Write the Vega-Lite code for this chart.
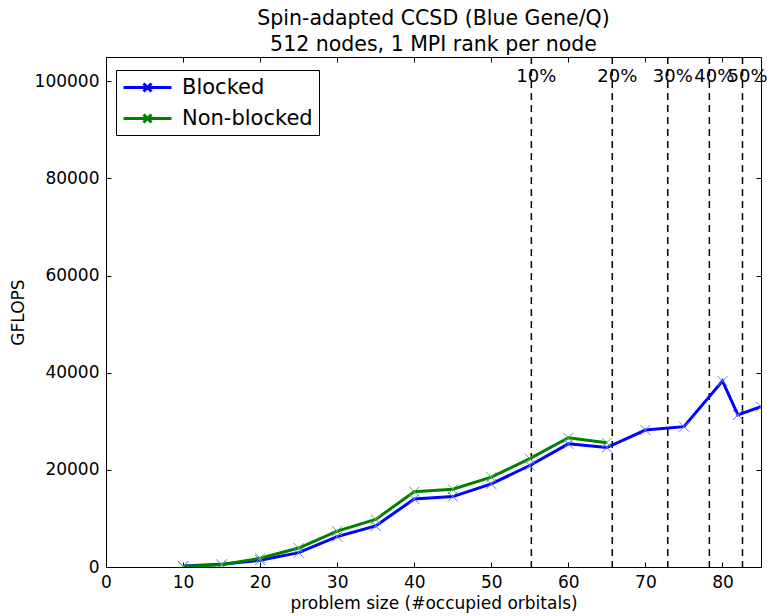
{
  "$schema": "https://vega.github.io/schema/vega-lite/v6.json",
  "autosize": "none",
  "padding": {"left": 106, "top": 57, "right": 6, "bottom": 49},
  "width": 655,
  "height": 510,
  "background": "white",
  "title": {
    "text": ["Spin-adapted CCSD (Blue Gene/Q)", "512 nodes, 1 MPI rank per node"],
    "font": "DejaVu Sans",
    "fontSize": 20.5,
    "fontWeight": "normal",
    "color": "black",
    "anchor": "middle",
    "offset": 1,
    "lineHeight": 26
  },
  "config": {
    "font": "DejaVu Sans",
    "view": {"stroke": "black", "strokeWidth": 1},
    "axis": {
      "grid": false,
      "labelFlush": false,
      "domainColor": "black",
      "tickColor": "black",
      "tickSize": -5,
      "labelColor": "black",
      "labelFont": "DejaVu Sans",
      "labelFontSize": 17,
      "titleFont": "DejaVu Sans",
      "titleFontSize": 17,
      "titleFontWeight": "normal",
      "titleColor": "black"
    }
  },
  "datasets": {
    "perf": [
      {"size": 10, "gflops": 200, "series": "Blocked"},
      {"size": 15, "gflops": 550, "series": "Blocked"},
      {"size": 20, "gflops": 1400, "series": "Blocked"},
      {"size": 25, "gflops": 2950, "series": "Blocked"},
      {"size": 30, "gflops": 6250, "series": "Blocked"},
      {"size": 35, "gflops": 8450, "series": "Blocked"},
      {"size": 40, "gflops": 14000, "series": "Blocked"},
      {"size": 45, "gflops": 14500, "series": "Blocked"},
      {"size": 50, "gflops": 17100, "series": "Blocked"},
      {"size": 55, "gflops": 20900, "series": "Blocked"},
      {"size": 60, "gflops": 25350, "series": "Blocked"},
      {"size": 65, "gflops": 24600, "series": "Blocked"},
      {"size": 70, "gflops": 28200, "series": "Blocked"},
      {"size": 75, "gflops": 28900, "series": "Blocked"},
      {"size": 80, "gflops": 38300, "series": "Blocked"},
      {"size": 82, "gflops": 31300, "series": "Blocked"},
      {"size": 85, "gflops": 33000, "series": "Blocked"},
      {"size": 10, "gflops": 100, "series": "Non-blocked"},
      {"size": 15, "gflops": 450, "series": "Non-blocked"},
      {"size": 20, "gflops": 1800, "series": "Non-blocked"},
      {"size": 25, "gflops": 3900, "series": "Non-blocked"},
      {"size": 30, "gflops": 7400, "series": "Non-blocked"},
      {"size": 35, "gflops": 9800, "series": "Non-blocked"},
      {"size": 40, "gflops": 15500, "series": "Non-blocked"},
      {"size": 45, "gflops": 16000, "series": "Non-blocked"},
      {"size": 50, "gflops": 18500, "series": "Non-blocked"},
      {"size": 55, "gflops": 22300, "series": "Non-blocked"},
      {"size": 60, "gflops": 26600, "series": "Non-blocked"},
      {"size": 65, "gflops": 25600, "series": "Non-blocked"}
    ],
    "marks": [
      {"size": 55.2, "label": "10%", "labelY": 100800},
      {"size": 65.7, "label": "20%", "labelY": 100800},
      {"size": 72.9, "label": "30%", "labelY": 100800},
      {"size": 78.3, "label": "40%", "labelY": 100800},
      {"size": 82.6, "label": "50%", "labelY": 100800}
    ]
  },
  "resolve": {"axis": {"x": "independent", "y": "independent"}},
  "layer": [
    {
      "data": {"name": "marks"},
      "mark": {"type": "rule", "color": "black", "strokeWidth": 1.5, "strokeDash": [7, 5]},
      "encoding": {
        "x": {
          "field": "size", "type": "quantitative",
          "scale": {"domain": [0, 85], "nice": false, "zero": false},
          "axis": {"orient": "bottom", "values": [0, 10, 20, 30, 40, 50, 60, 70, 80], "title": "problem size (#occupied orbitals)", "labelPadding": 12, "titlePadding": 5}
        }
      }
    },
    {
      "data": {"name": "marks"},
      "mark": {"type": "text", "fontSize": 18, "color": "black", "align": "center", "baseline": "middle", "dx": 5},
      "encoding": {
        "x": {"field": "size", "type": "quantitative", "axis": {"orient": "top", "labels": false, "title": null, "domain": false, "values": [0, 10, 20, 30, 40, 50, 60, 70, 80]}},
        "y": {
          "field": "labelY", "type": "quantitative",
          "scale": {"domain": [0, 105000], "nice": false},
          "axis": {"orient": "left", "values": [0, 20000, 40000, 60000, 80000, 100000], "format": "d", "title": "GFLOPS", "labelPadding": 12, "titlePadding": 7}
        },
        "text": {"field": "label"}
      }
    },
    {
      "data": {"name": "perf"},
      "mark": {"type": "line", "strokeWidth": 3, "clip": true},
      "encoding": {
        "x": {"field": "size", "type": "quantitative", "axis": null},
        "y": {"field": "gflops", "type": "quantitative", "axis": null},
        "color": {
          "field": "series", "type": "nominal",
          "scale": {"domain": ["Blocked", "Non-blocked"], "range": ["#0000ff", "#008000"]},
          "legend": {
            "title": null,
            "orient": "none",
            "legendX": 10,
            "legendY": 13,
            "strokeColor": "black",
            "fillColor": "white",
            "padding": 6,
            "symbolType": "M-1,0L3.8,0M1,-0.4L1.8,0.4M1,0.4L1.8,-0.4",
            "symbolSize": 400,
            "symbolStrokeWidth": 3,
            "symbolFillColor": "transparent",
            "labelFontSize": 21,
            "labelFont": "DejaVu Sans",
            "labelColor": "black",
            "labelOffset": 37,
            "rowPadding": 9,
            "offset": 0
          }
        },
        "order": {"field": "size", "type": "quantitative"}
      }
    },
    {
      "data": {"name": "perf"},
      "mark": {"type": "point", "shape": "M-1,-1L1,1M-1,1L1,-1", "size": 100, "filled": false, "strokeWidth": 1, "clip": true, "opacity": 1},
      "encoding": {
        "x": {"field": "size", "type": "quantitative", "axis": null},
        "y": {"field": "gflops", "type": "quantitative", "axis": {"orient": "right", "labels": false, "title": null, "domain": false, "values": [0, 20000, 40000, 60000, 80000, 100000]}},
        "stroke": {
          "field": "series", "type": "nominal",
          "scale": {"domain": ["Blocked", "Non-blocked"], "range": ["#7070ff", "#50b050"]},
          "legend": null
        }
      }
    }
  ]
}
